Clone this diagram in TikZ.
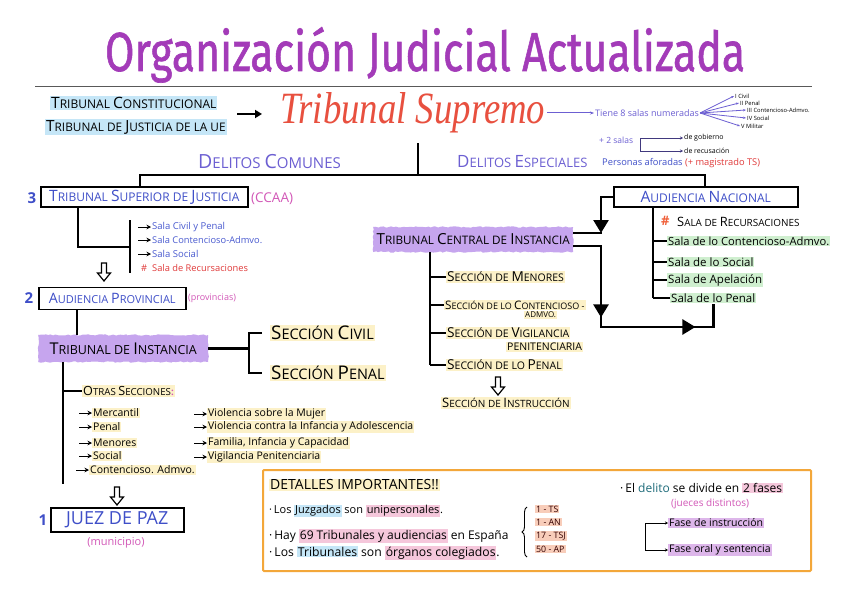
\documentclass[tikz,border=0pt]{standalone}
\usepackage{fontspec}
\setmainfont{Open Sans}
\newfontfamily\titlef[FakeBold=1.2]{Fira Sans}
\newfontfamily\seriff{Liberation Serif}
\usetikzlibrary{arrows.meta,decorations.pathmorphing,decorations.markings,decorations.pathreplacing,calc}
\makeatletter
\newcommand\K[1]{{\fontsize{\strip@pt\dimexpr1.3\dimexpr\f@size pt\relax\relax}{1}\selectfont #1}}
\makeatother
\newcommand\hl[2]{\begingroup\setlength{\fboxsep}{0.8pt}\colorbox{#1}{#2}\endgroup}
\definecolor{titlec}{HTML}{A33BB8}
\definecolor{supc}{HTML}{E8503F}
\definecolor{blu}{HTML}{3F4FC8}
\definecolor{blu2}{HTML}{4A5BD0}
\definecolor{dpurp}{HTML}{6C5FD2}
\definecolor{pinkt}{HTML}{D257B7}
\definecolor{redt}{HTML}{E03A3A}
\definecolor{hashc}{HTML}{F0603A}
\definecolor{hlb}{HTML}{C5E6F7}
\definecolor{hly}{HTML}{FCF1C8}
\definecolor{hlg}{HTML}{CFEFCF}
\definecolor{hll}{HTML}{C6A5EE}
\definecolor{hlp}{HTML}{F5C7DB}
\definecolor{hls}{HTML}{F8CDBA}
\definecolor{hlv}{HTML}{DDB6EA}
\definecolor{orng}{HTML}{F3A73A}
\definecolor{tealt}{HTML}{1E6B7A}
\begin{document}
\begin{tikzpicture}[x=1pt,y=-1pt,
 bline/.style={line width=2.6pt},
 sarr/.style={-{Stealth[length=4.5pt,width=4.5pt]}, line width=1pt},
 tarr/.style={-{Stealth[length=3pt,width=3pt]}, line width=0.8pt},
 bigtip/.style={-{Triangle[length=13pt,width=15pt]}},
 lbl/.style={anchor=west, inner sep=1pt},
 fs/.style={font=\fontsize{#1}{#1}\selectfont},
 box/.style={draw, line width=1.5pt, anchor=west, inner sep=0pt},
 rough/.style={decorate, decoration={random steps, segment length=2.5pt, amplitude=0.7pt}},
 num/.style={text=blu, font=\fontsize{15}{15}\selectfont\bfseries, inner sep=0pt},
 harrow/.pic={\draw[line width=1.2pt, fill=white, line join=miter] (-2.5,0) -- (2.5,0) -- (2.5,10) -- (6.5,10) -- (0,18) -- (-6.5,10) -- (-2.5,10) -- cycle;},
]
\useasboundingbox (0,0) rectangle (848,599);
\fill[white] (0,0) rectangle (848,599);

% title
\node[anchor=base, inner sep=0] (title) at (425,71) {\titlef\color{titlec}\resizebox{640pt}{44pt}{Organización Judicial Actualizada}};
\coordinate (rl) at (35,87);
\coordinate (rr) at (812,87);
\draw[line width=1pt, black!65] (rl) -- (rr);

% top left
\node[lbl, fs=12, fill=hlb] (tc) at (50,103) {\K{T}RIBUNAL \K{C}ONSTITUCIONAL};
\node[lbl, fs=11.8, fill=hlb] (tue) at (45,127) {\K{T}RIBUNAL DE \K{J}USTICIA DE LA UE};
\coordinate (a1) at (237,114);
\coordinate (a2) at (262,114);
\draw[line width=1.8pt, -{Triangle[length=7pt,width=8pt]}] (a1) -- (a2);

% Tribunal Supremo
\node[anchor=base west, inner sep=0] (ts) at (280,124) {\color{supc}\resizebox{265pt}{31pt}{\seriff\itshape Tribunal Supremo}};
\node[lbl, fs=9, text=dpurp] (t8) at (594,113) {Tiene 8 salas numeradas};
\draw[line width=1pt, draw=dpurp, -{Stealth[length=4pt]}] ([xshift=2pt]ts.east |- t8.west) -- (t8.west);
\node[lbl, fs=5.8] (r1) at (734,96) {I Civil};
\node[lbl, fs=5.8] (r2) at (739,103) {II Penal};
\node[lbl, fs=5.8] (r3) at (746,110) {III Contencioso-Admvo.};
\node[lbl, fs=5.8] (r4) at (746,118) {IV Social};
\node[lbl, fs=5.8] (r5) at (740,126) {V Militar};
\foreach \r in {r1,r2,r3,r4,r5} \draw[draw=dpurp, line width=0.8pt, -{Stealth[length=3pt]}] (t8.east) -- (\r.west);
\node[lbl, fs=8.5, text=dpurp] (s2) at (598,140) {+ 2 salas};
\node[lbl, fs=7] (g1) at (683,138) {de gobierno};
\node[lbl, fs=7] (g2) at (683,151) {de recusación};
\coordinate (bk) at (640,138);
\draw[tarr, draw=dpurp!60!black] (bk) -- (g1.west);
\draw[tarr, draw=dpurp!60!black] (bk) |- (g2.west);

% delitos split
\coordinate (tsb) at (418,143);
\coordinate (dl) at (140,175);
\coordinate (dr) at (705,175);
\node[lbl, fs=15, text=dpurp] (dc) at (197,162) {\K{D}ELITOS \K{C}OMUNES};
\node[lbl, fs=13, text=dpurp] (de) at (456,162) {\K{D}ELITOS \K{E}SPECIALES};
\node[lbl, fs=9.3] (pa) at (601,163) {\textcolor{blu}{Personas aforadas} \textcolor{redt}{(+ magistrado TS)}};

% TSJ
\node[box, minimum width=207pt, minimum height=20pt, fs=12, text=blu] (tsj) at (40,197) {\K{T}RIBUNAL \K{S}UPERIOR DE \K{J}USTICIA};
\node[num] (n3) at (32,198) {3};
\node[lbl, fs=13.5, text=pinkt] (ccaa) at (250,199) {(CCAA)};

% AN
\node[box, minimum width=184pt, minimum height=20pt, fs=12, text=blu] (an) at (613,197) {\K{A}UDIENCIA \K{N}ACIONAL};

\draw[bline] (tsb) -- (tsb |- dl);
\draw[bline] (tsj.north -| dl) |- (dr) -- (an.north -| dr);

% TSJ tree
\coordinate (tsjbar) at (130,247);
\coordinate (bt1) at (130,220);
\coordinate (bt2) at (130,273);
\draw[bline] ([xshift=38pt]tsj.south west) |- (tsjbar);
\draw[bline] (bt1) -- (bt2);
\node[lbl, fs=9.5, text=blu2] (ts1) at (151,227) {Sala Civil y Penal};
\node[lbl, fs=9.3, text=blu2] (ts2) at (151,240) {Sala Contencioso-Admvo.};
\node[lbl, fs=9.5, text=blu2] (ts3) at (151,254) {Sala Social};
\node[lbl, fs=9.3, text=redt] (ts4) at (151,268) {Sala de Recursaciones};
\node[lbl, fs=9.3, text=redt] (hash1) at (140,268) {\#};
\foreach \s in {ts1,ts2,ts3} \draw[sarr] ([xshift=-13pt]\s.west) -- (\s.west);
\pic at (104,263) {harrow};

% AP
\node[box, minimum width=147pt, minimum height=22pt, fs=11, text=blu] (ap) at (38,298.5) {\K{A}UDIENCIA \K{P}ROVINCIAL};
\node[num] (n2) at (29,298) {2};
\node[lbl, fs=9, text=pinkt] (prov) at (187,298) {(provincias)};

% Tribunal de Instancia
\node[fill=hll, rough, minimum width=170pt, minimum height=27pt, anchor=west, fs=12.5, inner sep=1pt] (tdi) at (38,348.5) {\K{T}RIBUNAL DE \K{I}NSTANCIA};
\draw[bline] ([xshift=39pt]ap.south west) -- ([xshift=39pt]tdi.north west);
\node[lbl, fs=14.5, fill=hly] (scv) at (270,333) {\K{S}ECCIÓN \K{C}IVIL};
\node[lbl, fs=14.5, fill=hly] (scp) at (270,373) {\K{S}ECCIÓN \K{P}ENAL};
\coordinate (bc) at (249,348.5);
\draw[bline] (tdi.east) -- (bc);
\draw[bline] ([xshift=-8pt]scv.west) -| (bc) |- ([xshift=-8pt]scp.west);

\coordinate (tdiend) at (63,484);
\draw[bline] ([xshift=25pt]tdi.south west) -- (tdiend);
\node[lbl, fs=9.7, fill=hly] (otras) at (82,391) {\K{O}TRAS \K{S}ECCIONES\textcolor{pinkt}{\textbf{:}}};
\draw[bline] (tdiend |- otras.west) -- (otras.west);

\node[lbl, fs=10.5, fill=hly] (m1) at (92,413) {Mercantil};
\node[lbl, fs=10.5, fill=hly] (m2) at (92,427) {Penal};
\node[lbl, fs=10.5, fill=hly] (m3) at (92,443) {Menores};
\node[lbl, fs=10.5, fill=hly] (m4) at (92,456) {Social};
\node[lbl, fs=10.5, fill=hly] (m5) at (89,470) {Contencioso. Admvo.};
\node[lbl, fs=10.5, fill=hly] (v1) at (207,414) {Violencia sobre la Mujer};
\node[lbl, fs=10.5, fill=hly] (v2) at (207,427) {Violencia contra la Infancia y Adolescencia};
\node[lbl, fs=10.5, fill=hly] (v3) at (207,443) {Familia, Infancia y Capacidad};
\node[lbl, fs=10.5, fill=hly] (v4) at (207,457) {Vigilancia Penitenciaria};
\foreach \s in {m1,m2,m3,m4,m5,v1,v2,v3,v4} \draw[sarr] ([xshift=-13pt]\s.west) -- (\s.west);

\pic at (117,487) {harrow};
\node[box, minimum width=133pt, minimum height=24pt, fs=18, text=blu] (jdp) at (50,520) {JUEZ DE PAZ};
\node[num] (n1) at (43,520) {1};
\node[fs=11, text=pinkt, inner sep=1pt] (mun) at (116,543) {(municipio)};

% TCI
\node[fill=hll, rough, minimum width=200pt, minimum height=25pt, anchor=west, fs=11.7, inner sep=1pt] (tci) at (373,239.5) {\K{T}RIBUNAL \K{C}ENTRAL DE \K{I}NSTANCIA};

% AN items
\node[lbl, fs=9.9] (an1) at (676,222) {\K{S}ALA DE \K{R}ECURSACIONES};
\node[lbl, font=\fontsize{13}{13}\selectfont\bfseries, text=hashc] (hash2) at (660,221) {\#};
\node[lbl, fs=11.2, fill=hlg] (an2) at (667,241) {Sala de lo Contencioso-Admvo.};
\node[lbl, fs=11.5, fill=hlg] (an3) at (667,262) {Sala de lo Social};
\node[lbl, fs=11.5, fill=hlg] (an4) at (667,280) {Sala de Apelación};
\node[lbl, fs=11.5, fill=hlg] (an5) at (670,298) {Sala de lo Penal};
\coordinate (anl) at (653,0);
\draw[bline] (anl |- an.south) -- (anl |- an5.west);
\foreach \s in {an2,an3,an4,an5} \draw[bline] (anl |- \s.west) -- (\s.west);

% AN -> TCI, TCI -> Sala de lo Penal
\coordinate (j1) at (601,233);
\draw[bline, bigtip] (an.west) -| (j1);
\draw[bline] ([yshift=6.5pt]tci.east) -- ([xshift=1.3pt]j1);
\coordinate (j2) at (601,246);
\coordinate (j3) at (601,327);
\draw[bline, postaction=decorate, decoration={markings,
   mark=at position 99pt with {\arrow{Triangle[length=13pt,width=15pt]}},
   mark=at position 203pt with {\arrow{Triangle[length=13pt,width=15pt]}}}]
   ([yshift=-6.5pt]tci.east) -- (j2) -- (j3) -| (an5.south);

% TCI items
\coordinate (tcl) at (430,0);
\node[lbl, fs=10.5, fill=hly] (c1) at (446,277) {\K{S}ECCIÓN DE \K{M}ENORES};
\node[lbl, fs=9, fill=hly] (c2) at (444,305) {\K{S}ECCIÓN DE LO \K{C}ONTENCIOSO -};
\node[lbl, fs=8, fill=hly] (c2b) at (524,315) {ADMVO.};
\node[lbl, fs=10.5, fill=hly] (c3) at (446,333) {\K{S}ECCIÓN DE \K{V}IGILANCIA};
\node[lbl, fs=10.5, fill=hly] (c3b) at (506,347) {PENITENCIARIA};
\node[lbl, fs=10.5, fill=hly] (c4) at (446,365) {\K{S}ECCIÓN DE LO \K{P}ENAL};
\draw[bline] (tcl |- tci.south) -- (tcl |- c4.west);
\foreach \s in {c1,c2,c3,c4} \draw[bline] (tcl |- \s.west) -- (\s.west);
\pic at (498,377) {harrow};
\node[lbl, fs=10, fill=hly] (c5) at (441,403) {\K{S}ECCIÓN DE \K{I}NSTRUCCIÓN};

% details box
\node[draw=orng, line width=2pt, rounded corners=1pt, minimum width=548pt, minimum height=101pt, anchor=north west, inner sep=0] (det) at (262,469) {};
\node[lbl, fs=14, fill=hly] (dt) at (269,485) {DETALLES IMPORTANTES!!};
\node[lbl, fs=11] (d1) at (268,511) {·\,Los \hl{hlb}{Juzgados} son \hl{hlp}{unipersonales}.};
\node[lbl, fs=12] (d2) at (268,536) {·\,Hay \hl{hlp}{69 Tribunales y audiencias} en España};
\node[lbl, fs=12.2] (d3) at (268,553) {·\,Los \hl{hlb}{Tribunales} son \hl{hlp}{órganos colegiados}.};
\coordinate (brb) at (527,557);
\coordinate (brt) at (527,507);
\draw[line width=0.9pt, decorate, decoration={brace, amplitude=5pt}] (brb) -- (brt);
\node[lbl, fs=8.8, fill=hls, text=black!80!red] (b1) at (535,509) {1 - TS};
\node[lbl, fs=8.8, fill=hls, text=black!80!red] (b2) at (535,522) {1 - AN};
\node[lbl, fs=8.8, fill=hls, text=black!80!red] (b3) at (535,536) {17 - TSJ};
\node[lbl, fs=8.8, fill=hls, text=black!80!red] (b4) at (535,549) {50 - AP};
\node[lbl, fs=12] (e1) at (619,488) {·\,El \textcolor{tealt}{delito} se divide en \hl{hlp}{2 fases}};
\node[lbl, fs=10, text=pinkt] (e2) at (670,504) {(jueces distintos)};
\node[lbl, fs=10.5, fill=hlv] (f1) at (668,523) {Fase de instrucción};
\node[lbl, fs=10.5, fill=hlv] (f2) at (668,550) {Fase oral y sentencia};
\coordinate (fb) at (645,523);
\draw[tarr] (fb) -- (f1.west);
\draw[tarr] (fb) |- (f2.west);
\end{tikzpicture}
\end{document}
